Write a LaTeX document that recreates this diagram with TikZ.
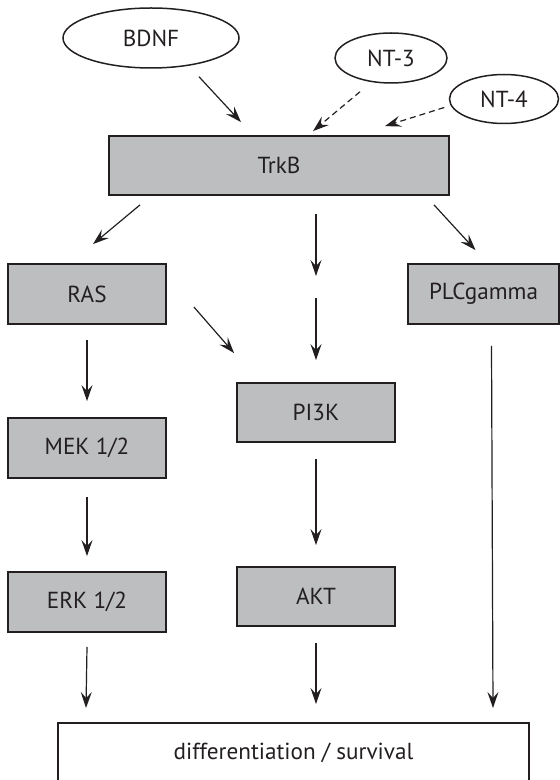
\documentclass[tikz,border=0pt]{standalone}
\usepackage{fontspec}
\setmainfont{PT Sans}
\usepackage{tikz}
\usetikzlibrary{positioning,calc,shapes.geometric,arrows.meta}
\definecolor{boxgray}{RGB}{188,190,192}
\definecolor{inkblack}{RGB}{35,31,32}

\begin{document}
\begin{tikzpicture}[x=0.5pt,y=-0.5pt,node distance=77pt,
		font=\fontsize{11.6}{13}\selectfont,
		prot/.style={draw=inkblack,line width=0.9pt,fill=boxgray,text=inkblack,
			minimum width=79pt,minimum height=30pt,inner sep=0pt},
		lig/.style={ellipse,draw=inkblack,line width=0.75pt,text=inkblack,inner sep=0pt},
		arr/.style={draw=inkblack,line width=0.6pt,-{Stealth[length=8pt,width=5.5pt,inset=3pt]}},
		darr/.style={arr,dash pattern=on 3pt off 2pt}]
				\useasboundingbox (0,0) rectangle (560,780);
				\node(bdnf)[lig,minimum width=88pt,minimum height=30pt] at (151,38) {BDNF};
				\node(nt3)[lig,minimum width=56pt,minimum height=25pt] at (391,58) {NT-3};
				\node(nt4)[lig,minimum width=54.5pt,minimum height=24.5pt] at (504,99) {NT-4};
				\node(trkb)[prot,minimum width=170pt,minimum height=29.5pt] at (279,165.5) {TrkB};
				\node(ras)[prot] at (87,294) {RAS};
				\node(mek)[prot,below of =ras] {MEK 1/2};
				\node(erk)[prot,below of =mek] {ERK 1/2};
				\node(pi3k)[prot,minimum height=29.5pt] at (316,412.5) {PI3K};
				\node(akt)[prot,minimum height=29.5pt,below of =pi3k,node distance=92pt] {AKT};
				\node(plc)[prot,minimum width=75.5pt] at (483.5,294) {PLCgamma};
				\node(diff)[draw=inkblack,line width=1pt,fill=white,text=inkblack,
					minimum width=235.5pt,minimum height=29.5pt] at (293.5,752.5) {differentiation / survival};
				\coordinate(gap) at (316,287);
				% ligands
			 	\draw[arr] ($(bdnf.south)+(48,8)$) -- ($(trkb.north)+(-38,-13)$);
			 	\draw[darr] ($(nt3.south)+(-31,8)$) -- ($(trkb.north)+(34,-4)$);
			 	\draw[darr] ($(nt4.west)+(-4.5,8.5)$) -- ($(trkb.north)+(106,-9)$);
				% receptor
			 	\draw[arr] ($(trkb.south)+(-139,9)$) -- ($(ras.north)+(6,-19)$);
			 	\draw[arr] ($(trkb.south)+(37,18)$) -- ($(gap)+(0,-11)$);
			 	\draw[arr] ($(gap)+(0,11)$) -- ($(pi3k.north)+(0,-22)$);
			 	\draw[arr] ($(trkb.south)+(155,9)$) -- ($(plc.north)+(-8,-13)$);
				% cascades
			 	\draw[arr] ($(ras.east)+(27,13)$) -- ($(pi3k.north west)+(-2,-29)$);
			 	\draw[arr] ($(ras.south)+(0,15)$) -- ($(mek.north)+(0,-16)$);
			 	\draw[arr] ($(mek.south)+(0,18)$) -- ($(erk.north)+(0,-15)$);
			 	\draw[arr] ($(pi3k.south)+(0,16)$) -- ($(akt.north)+(0,-21)$);
			 	\draw[arr] ($(erk.south)+(0,14)$) -- ($(diff.north west)+(29,-14)$);
			 	\draw[arr] ($(akt.south)+(0,16)$) -- ($(diff.north)+(22.5,-18)$);
			 	\draw[arr] ($(plc.south)+(8,21)$) -- ($(diff.north east)+(-37,-14)$);
			\end{tikzpicture}
\end{document}
